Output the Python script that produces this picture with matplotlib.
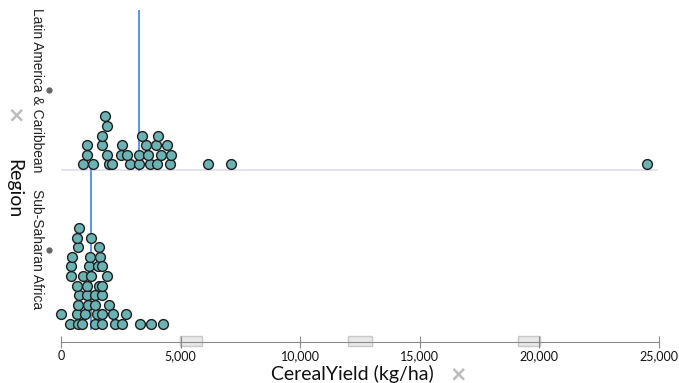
import numpy as np
import matplotlib
matplotlib.use("Agg")
import matplotlib.pyplot as plt
from matplotlib.patches import Rectangle
from matplotlib.ticker import StrMethodFormatter
import matplotlib.transforms as mtransforms

# cereal yield (kg/ha), in case order
latin = [940, 1080, 1085, 1334,
         1991, 1924, 1705, 1710, 1930, 1852,
         2134, 2505, 2905, 2778, 2547,
         3250, 3260, 3734, 3620, 3557, 3380,
         4012, 4197, 3957, 4054, 4576, 4610, 4450,
         6146, 7115, 24500]
ssa = [379, 10,
       730, 660, 725, 735, 665, 430, 435, 450, 728, 686, 770,
       871, 1010, 1149, 1082, 1085, 939, 1150, 1221,
       1431, 1503, 1435, 1440, 1570, 1265, 1545, 1641, 1575, 1270,
       1713, 1715, 1991, 1718, 1720, 1924, 1722,
       2273, 2168, 2538, 2736, 3296, 3776, 4281]
regions = ["Sub-Saharan Africa", "Latin America & Caribbean"]
xticks = [0, 5000, 10000, 15000, 20000, 25000]

W, H = 679, 383
fig = plt.figure(figsize=(W / 100, H / 100), dpi=100)
ax = fig.add_axes([61 / W, (H - 342) / H, 598 / W, 332 / H])
ax.set_xlim(0, 25000)
ax.set_ylim(-0.079, 2)
px_unit = 332 / 2.079  # pixels per band unit

bin_w = 421  # about one dot diameter in kg/ha
step = 9.6 / px_unit
rad = 5.3 / px_unit


def stack_levels(vals, bw):
    counts = {}
    levels = []
    for v in vals:
        b = int(v // bw)
        levels.append(counts.get(b, 0))
        counts[b] = counts.get(b, 0) + 1
    return np.array(levels)


fill = "#6ab2b3"
for i, vals in enumerate([ssa, latin]):
    vals = np.array(vals)
    lev = stack_levels(vals, bin_w)
    ax.scatter(vals, i + rad + lev * step, s=50, c=fill, edgecolors="#1e1e1e",
               linewidths=1.0, zorder=3, clip_on=False)
    ax.plot([np.median(vals)] * 2, [i, i + 1], color="#4a8cf0", lw=1.3, zorder=2)

ax.axhline(1, color="#dedcf5", lw=1.2, zorder=1, xmax=0.997)

# category marks and labels
trans = mtransforms.blended_transform_factory(ax.transAxes, ax.transData)
for i, name in enumerate(regions):
    ax.plot([-12 / 598], [i + 0.5], "o", ms=3.5, color="#666666", transform=trans, clip_on=False)
    ax.text(-24 / 598, i + 0.5, name, rotation=-90, ha="center", va="center",
            transform=trans, fontsize=9.9, family="Liberation Sans", color="#222222")

ax.text(-47 / 598, 0.88, "Region", rotation=-90, ha="center", va="center",
        transform=trans, fontsize=14, family="Lato", color="#111111")
ax.text(-45 / 598, 1.34, "×", ha="center", va="center", transform=trans,
        fontsize=15, fontweight="bold", color="#bbbbbb")

# x axis
for s in ["top", "right", "left"]:
    ax.spines[s].set_visible(False)
ax.spines["bottom"].set_color("#8a8a8a")
ax.set_yticks([])
ax.set_xticks(xticks)
ax.xaxis.set_major_formatter(StrMethodFormatter("{x:,.0f}"))
ax.tick_params(axis="x", direction="inout", length=8, color="#8a8a8a", pad=2,
               labelsize=9, labelcolor="#111111")
for lab in ax.get_xticklabels():
    lab.set_family("Lato")

# drag handle boxes on the axis
tb = mtransforms.blended_transform_factory(ax.transData, fig.transFigure)
for x0, x1 in [(4975, 5895), (12000, 13000), (19100, 20025)]:
    ax.add_patch(Rectangle((x0, (H - 346) / H), x1 - x0, 10 / H, transform=tb,
                           facecolor="#e8e8e8", edgecolor="#c8c8c8", lw=1, clip_on=False, zorder=0))

fig.text(352 / W, 1 - 374 / H, "CerealYield (kg/ha)", ha="center", va="center",
         fontsize=14, family="Lato", color="#111111")
fig.text(458 / W, 1 - 374 / H, "×", ha="center", va="center",
         fontsize=15, fontweight="bold", color="#bbbbbb")

fig.savefig("out.png", dpi=100)
